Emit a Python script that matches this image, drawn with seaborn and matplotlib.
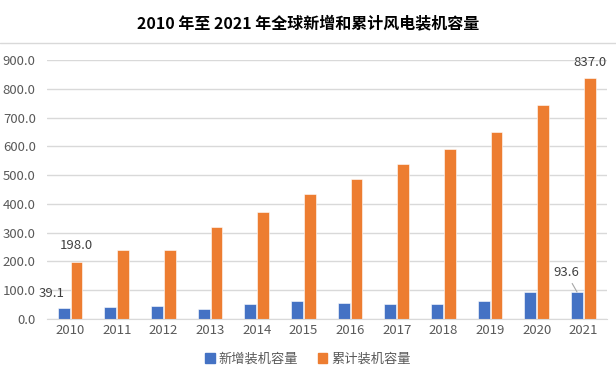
import matplotlib
matplotlib.use("Agg")
import matplotlib.pyplot as plt
import seaborn as sns
import pandas as pd
from matplotlib.lines import Line2D
from matplotlib.ticker import FormatStrFormatter

years = ["2010", "2011", "2012", "2013", "2014", "2015",
         "2016", "2017", "2018", "2019", "2020", "2021"]
new_capacity = [39.1, 40.6, 45.0, 36.0, 51.7, 63.8, 54.9, 52.6, 50.7, 60.4, 93.0, 93.6]
total_capacity = [198.0, 238.0, 238.0, 318.0, 370.0, 433.0, 487.0, 540.0, 591.0, 651.0, 744.0, 837.0]
series_names = ["新增装机容量", "累计装机容量"]
colors = ["#4472C4", "#ED7D31"]

df = pd.DataFrame({
    "year": years * 2,
    "series": [series_names[0]] * len(years) + [series_names[1]] * len(years),
    "value": new_capacity + total_capacity,
})

sns.set_style("white")
plt.rcParams["font.family"] = ["Noto Sans CJK SC", "DejaVu Sans"]

fig = plt.figure(figsize=(6.16, 3.76), dpi=100)
ax = fig.add_axes([0.076, 0.152, 0.909, 0.688])

sns.barplot(data=df, x="year", y="value", hue="series", palette=colors,
            width=0.55, gap=0.08, ax=ax, saturation=1,
            edgecolor="white", linewidth=0.4)

ax.set_ylim(0, 900)
ax.set_xlim(-0.5, len(years) - 0.5)
ax.set_yticks(range(0, 901, 100))
ax.yaxis.set_major_formatter(FormatStrFormatter("%.1f"))
ax.grid(axis="y", color="#D9D9D9", linewidth=1)
ax.set_axisbelow(True)
for s in ["top", "right", "left"]:
    ax.spines[s].set_visible(False)
ax.spines["bottom"].set_color("#D9D9D9")
ax.tick_params(axis="both", length=0, labelsize=9.5, labelcolor="#595959")
ax.tick_params(axis="y", pad=8)
ax.set_xlabel("")
ax.set_ylabel("")

# data labels
blue_bars = ax.containers[0]
orange_bars = ax.containers[1]
lab_kw = dict(fontsize=9.5, color="#404040", ha="center", va="center",
              textcoords="offset points")
b0 = blue_bars[0]
ax.annotate(f"{new_capacity[0]:.1f}", (b0.get_x() + b0.get_width() / 2, new_capacity[0]),
            xytext=(-9, 10), **lab_kw)
o0 = orange_bars[0]
ax.annotate(f"{total_capacity[0]:.1f}", (o0.get_x() + o0.get_width() / 2, total_capacity[0]),
            xytext=(0, 11.5), **lab_kw)
o11 = orange_bars[11]
ax.annotate(f"{total_capacity[11]:.1f}", (o11.get_x() + o11.get_width() / 2, total_capacity[11]),
            xytext=(0, 11.5), **lab_kw)
b11 = blue_bars[11]
ax.annotate(f"{new_capacity[11]:.1f}", (b11.get_x() + b11.get_width() / 2, new_capacity[11]),
            xytext=(-8, 14), arrowprops=dict(arrowstyle="-", color="#A6A6A6", lw=0.8,
                                             shrinkA=1, shrinkB=0), **lab_kw)

ax.legend_.remove()
handles = [plt.Rectangle((0, 0), 1, 1, color=c) for c in colors]
fig.legend(handles, series_names, loc="center", bbox_to_anchor=(0.5, 0.045),
           ncol=2, frameon=False, fontsize=9.5, handlelength=0.7, handleheight=0.7,
           handletextpad=0.3, columnspacing=1.5, labelcolor="#595959")

fig.add_artist(Line2D([0, 1], [0.886, 0.886], color="#D9D9D9", lw=1))
fig.suptitle("2010 年至 2021 年全球新增和累计风电装机容量", x=0.5, y=0.96,
             fontsize=11.5, fontweight="bold", color="#000000")

fig.savefig("out.png", dpi=100)
